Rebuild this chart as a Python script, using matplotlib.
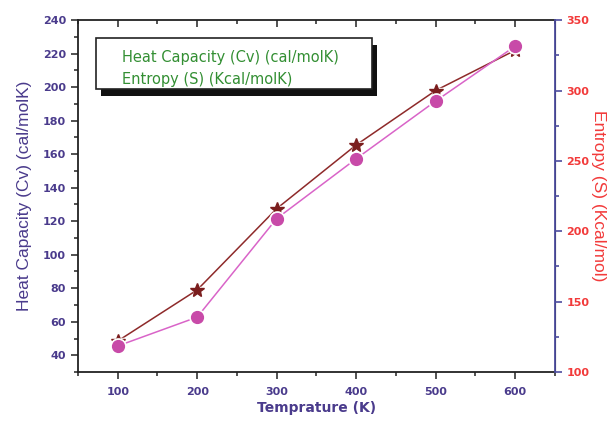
import numpy as np
import matplotlib
matplotlib.use("Agg")
import matplotlib.pyplot as plt
from matplotlib.ticker import MultipleLocator

# data
temp = [100, 200, 300, 400, 500, 600]
heat_cap = [48.5, 79, 127.5, 165.5, 198, 222]      # cal/molK, left axis
entropy = [118.5, 139, 209, 251.5, 292.5, 331.5]   # Kcal/mol, right axis

c_cv = "#7b1e1e"
c_cv_line = "#8e2a2a"
c_s = "#c84aa8"
c_s_line = "#d964c8"
c_tick = "#4a3b8c"
c_red = "#f23a3a"
c_spine_r = "#4d4d9e"

fig = plt.figure(figsize=(6.16, 4.28), dpi=100)
ax1 = fig.add_axes([0.1266, 0.1308, 0.774, 0.822])
ax2 = ax1.twinx()

# lines first, then white halo under markers to give the gaps
ax1.plot(temp, heat_cap, color=c_cv_line, lw=1.1, zorder=2)
ax1.plot(temp, heat_cap, ls="none", marker="*", ms=13, color="white", zorder=3)
ax1.plot(temp, heat_cap, ls="none", marker="*", ms=10.5, color=c_cv, zorder=4)

ax2.plot(temp, entropy, color=c_s_line, lw=1.1, zorder=2)
ax2.plot(temp, entropy, ls="none", marker="o", ms=11, color="white", zorder=3)
ax2.plot(temp, entropy, ls="none", marker="o", ms=8.5, color=c_s, zorder=4)

ax1.set_xlim(50, 650)
ax1.set_ylim(30, 240)
ax2.set_ylim(100, 350)

ax1.xaxis.set_major_locator(MultipleLocator(100))
ax1.xaxis.set_minor_locator(MultipleLocator(50))
ax1.yaxis.set_minor_locator(MultipleLocator(10))
ax2.yaxis.set_major_locator(MultipleLocator(50))
ax2.yaxis.set_minor_locator(MultipleLocator(25))
ax1.set_yticks([40, 60, 80, 100, 120, 140, 160, 180, 200, 220, 240])

tick_font = matplotlib.font_manager.FontProperties(family="DejaVu Sans", weight="bold", size=8)
ax1.tick_params(axis="x", which="both", direction="out", top=True, width=1.2, colors="#333333", labelcolor=c_tick, pad=6)
ax1.tick_params(axis="x", which="major", length=5)
ax1.tick_params(axis="x", which="minor", length=3)
ax1.tick_params(axis="y", which="major", direction="out", length=5, width=1.2, colors="#333333", labelcolor=c_tick)
ax1.tick_params(axis="y", which="minor", direction="out", length=3, width=1.2, colors="#333333")
ax2.tick_params(axis="y", which="major", direction="out", length=5, width=1.2, colors=c_spine_r, labelcolor=c_red)
ax2.tick_params(axis="y", which="minor", direction="out", length=3, width=1.2, colors=c_spine_r)

for lab in ax1.get_xticklabels() + ax1.get_yticklabels() + ax2.get_yticklabels():
    lab.set_fontproperties(tick_font)

for sp in ["left", "bottom", "top"]:
    ax1.spines[sp].set_linewidth(1.3)
    ax1.spines[sp].set_color("#222222")
ax2.spines["right"].set_color(c_spine_r)
ax2.spines["right"].set_linewidth(1.3)
for sp in ["left", "top", "bottom"]:
    ax2.spines[sp].set_visible(False)

# top ticks point inward
for t in ax1.xaxis.get_major_ticks() + ax1.xaxis.get_minor_ticks():
    t.tick2line.set_marker(matplotlib.lines.TICKDOWN)

ax1.set_xlabel("Temprature (K)", fontsize=10, fontweight="bold", color=c_tick, labelpad=3)
ax1.set_ylabel("Heat Capacity (Cv) (cal/molK)", fontsize=12.5, color=c_tick,
               family="Liberation Sans", labelpad=8)
ax2.set_ylabel("Entropy (S) (Kcal/mol)", fontsize=12.5, color=c_red,
               family="Liberation Sans", rotation=270, labelpad=12)

# legend box with drop shadow (drawn on the upper axes)
bx, by, bw, bh = 0.038, 0.804, 0.578, 0.145
shadow = matplotlib.patches.Rectangle((bx + 0.011, by - 0.02), bw, bh, transform=ax2.transAxes,
                                      facecolor="#111111", edgecolor="none", zorder=5)
box = matplotlib.patches.Rectangle((bx, by), bw, bh, transform=ax2.transAxes,
                                   facecolor="white", edgecolor="#222222", lw=1.2, zorder=6)
ax2.add_patch(shadow)
ax2.add_patch(box)
ax2.text(0.092, 0.895, "Heat Capacity (Cv) (cal/molK)", transform=ax2.transAxes,
         fontsize=10.5, color="#338f33", family="DejaVu Sans", va="center", zorder=7)
ax2.text(0.092, 0.832, "Entropy (S) (Kcal/molK)", transform=ax2.transAxes,
         fontsize=10.5, color="#338f33", family="DejaVu Sans", va="center", zorder=7)

fig.savefig("out.png", dpi=100)
